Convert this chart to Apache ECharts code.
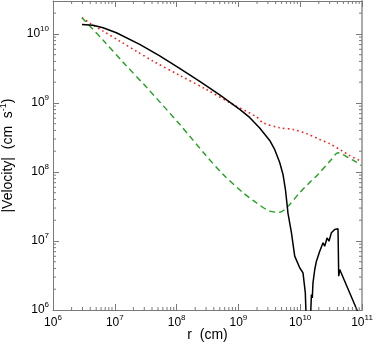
<!DOCTYPE html>
<html>
<head>
<meta charset="utf-8">
<script src="https://cdn.jsdelivr.net/npm/echarts@6/dist/echarts.min.js"></script>
<style>
  html, body { margin: 0; padding: 0; background: #fff; }
  #chart { width: 374px; height: 349px; }
</style>
</head>
<body>
<div id="chart"></div>
<script>
// values: r in cm, |velocity| in cm/s
var rBlack = [2.94e6, 4.44e6, 6.46e6, 1.06e7, 2.53e7, 5.33e7, 1.12e8, 2.37e8, 4.99e8, 1.05e9, 1.52e9, 2.21e9,
  3.21e9, 3.86e9, 4.66e9, 5.27e9, 5.77e9, 6.35e9, 7.21e9, 8.15e9, 9.82e9, 1.11e10, 1.21e10, 1.29e10,
  1.41e10, 1.52e10, 1.57e10, 1.61e10, 1.72e10, 1.83e10, 2.07e10, 2.34e10, 2.49e10, 2.72e10, 2.92e10,
  3.20e10, 3.61e10, 4.09e10, 4.20e10, 4.36e10, 8.30e10, 8.91e10];
var vBlack = [1.37e10, 1.34e10, 1.23e10, 1.04e10, 7.05e9, 4.80e9, 3.16e9, 2.05e9, 1.31e9, 8.05e8, 6.17e8, 4.34e8,
  2.86e8, 2.12e8, 1.37e8, 9.2e7, 5.57e7, 2.51e7, 1.32e7, 6.03e6, 4.09e6, 3.46e6, 1.77e6, 3.2e5,
  3.2e5, 1.68e6, 1.50e6, 2.48e6, 3.86e6, 5.09e6, 7.11e6, 9.42e6, 8.41e6, 1.11e7, 9.93e6,
  1.32e7, 1.47e7, 1.50e7, 3.09e6, 3.86e6, 1.0e6, 8.5e5];

var rRed = [2.94e6, 4.03e6, 6.46e6, 1.20e7, 2.24e7, 4.15e7, 1.12e8, 3.03e8, 8.18e8, 1.95e9, 2.50e9,
  4.65e9, 7.66e9, 1.26e10, 2.07e10, 3.00e10, 4.65e10, 6.31e10, 8.91e10, 1.0e11];
var vRed = [1.72e10, 1.42e10, 1.10e10, 7.87e9, 5.62e9, 4.04e9, 2.51e9, 1.57e9, 9.51e8, 6.31e8, 5.16e8,
  4.37e8, 4.13e8, 3.61e8, 2.96e8, 2.56e8, 2.05e8, 1.73e8, 1.48e8, 1.41e8];

var rGreen = [2.94e6, 6.46e6, 1.36e7, 3.24e7, 1.12e8, 2.85e8, 5.64e8, 1.19e9, 1.95e9,
  3.21e9, 4.66e9, 6.35e9, 9.82e9, 1.43e10, 1.94e10, 3.20e10, 4.09e10, 4.65e10, 6.31e10, 7.59e10, 9.77e10];
var vGreen = [1.72e10, 8.13e9, 3.89e9, 1.70e9, 4.90e8, 1.82e8, 9.23e7, 5.00e7, 3.58e7,
  2.70e7, 2.61e7, 3.19e7, 5.00e7, 7.08e7, 9.20e7, 1.52e8, 1.90e8, 1.84e8, 1.57e8, 1.44e8, 1.24e8];

// tick labels (powers of ten)
var xExponents = [6, 7, 8, 9, 10, 11];
var yExponents = [6, 7, 8, 9, 10];

var xMin = 1e6, xMax = 1e11;
var yMin = 1e6, yMax = 3e10;

function pairs(xs, ys) {
  return xs.map(function (x, i) { return [x, ys[i]]; });
}

// minor ticks at 2..9 x 10^n
var xMinor = [];
for (var e = 6; e < 11; e++) {
  for (var m = 2; m <= 9; m++) xMinor.push([m * Math.pow(10, e), yMin]);
}
var yMinor = [];
for (var e2 = 6; e2 <= 10; e2++) {
  for (var m2 = 2; m2 <= 9; m2++) {
    var v = m2 * Math.pow(10, e2);
    if (v < yMax) yMinor.push([xMin, v]);
  }
}

var frame = '#7a7a7a';
var font = 'Liberation Sans, Arial, Helvetica, sans-serif';

function powLabel(exps) {
  return function (val) {
    var p = Math.round(Math.log10(val));
    if (Math.abs(Math.log10(val) - p) > 1e-6 || exps.indexOf(p) < 0) return '';
    return '{b|10}{s|' + p + '}';
  };
}
var richLabel = {
  b: { fontSize: 12, fontFamily: font, color: '#000' },
  s: { fontSize: 8, fontFamily: font, color: '#000', padding: [0, 0, 10, 0] }
};

function mkX(pos, show) {
  return {
    type: 'log', logBase: 10, min: xMin, max: xMax, position: pos,
    axisLine: { show: true, onZero: false, lineStyle: { color: frame, width: 1 } },
    axisTick: { show: true, inside: true, length: 6, lineStyle: { color: frame } },
    axisLabel: { show: show, formatter: powLabel(xExponents), rich: richLabel, margin: 4 },
    splitLine: { show: false },
    name: show ? 'r  (cm)' : '',
    nameLocation: 'middle', nameGap: 18, nameMoveOverlap: false,
    nameTextStyle: { fontSize: 14, fontFamily: font, color: '#000' }
  };
}
function mkY(pos, show) {
  return {
    type: 'log', logBase: 10, min: yMin, max: yMax, position: pos,
    axisLine: { show: true, onZero: false, lineStyle: { color: pos === 'right' ? '#aaa' : frame, width: pos === 'right' ? 2 : 1 } },
    axisTick: { show: true, inside: true, length: 6, lineStyle: { color: frame } },
    axisLabel: { show: show, formatter: powLabel(yExponents), rich: richLabel, margin: 4 },
    splitLine: { show: false },
    name: show ? '|Velocity|  (cm  s{s|-1})' : '',
    nameLocation: 'middle', nameGap: 36, nameRotate: 90,
    nameTextStyle: { fontSize: 14, fontFamily: font, color: '#000', rich: { s: { fontSize: 9, fontFamily: font, padding: [0, 0, 9, 0] } } }
  };
}

var chart = echarts.init(document.getElementById('chart'), null, { renderer: 'canvas' });
chart.setOption({
  backgroundColor: '#fff',
  animation: false,
  grid: { left: 53, right: 12, top: 1, bottom: 39, containLabel: false, outerBoundsMode: 'none' },
  xAxis: [mkX('bottom', true), mkX('top', false)],
  yAxis: [mkY('left', true), mkY('right', false)],
  series: [
    {
      type: 'custom', xAxisIndex: 0, yAxisIndex: 0, silent: true, z: 5,
      data: xMinor,
      renderItem: function (params, api) {
        var cs = params.coordSys;
        var x = api.coord([api.value(0), yMin])[0];
        var st = { stroke: frame, lineWidth: 1 };
        return { type: 'group', children: [
          { type: 'line', shape: { x1: x, y1: cs.y + cs.height, x2: x, y2: cs.y + cs.height - 3 }, style: st },
          { type: 'line', shape: { x1: x, y1: cs.y, x2: x, y2: cs.y + 3 }, style: st }
        ] };
      }
    },
    {
      type: 'custom', xAxisIndex: 0, yAxisIndex: 0, silent: true, z: 5,
      data: yMinor,
      renderItem: function (params, api) {
        var cs = params.coordSys;
        var y = api.coord([xMin, api.value(1)])[1];
        var st = { stroke: frame, lineWidth: 1 };
        return { type: 'group', children: [
          { type: 'line', shape: { x1: cs.x, y1: y, x2: cs.x + 3, y2: y }, style: st },
          { type: 'line', shape: { x1: cs.x + cs.width, y1: y, x2: cs.x + cs.width - 3, y2: y }, style: st }
        ] };
      }
    },
    {
      name: 'total', type: 'line', data: pairs(rBlack, vBlack), showSymbol: false, clip: true,
      lineStyle: { color: '#000', width: 1.5 }, z: 3
    },
    {
      name: 'red', type: 'line', data: pairs(rRed, vRed), showSymbol: false, clip: true, smooth: 0.3,
      lineStyle: { color: '#ff1a1a', width: 1.6, type: [1.6, 3.2] }, z: 2
    },
    {
      name: 'green', type: 'line', data: pairs(rGreen, vGreen), showSymbol: false, clip: true, smooth: 0.3,
      lineStyle: { color: '#1fa01f', width: 1.4, type: [6, 4] }, z: 2
    }
  ]
});
</script>
</body>
</html>
